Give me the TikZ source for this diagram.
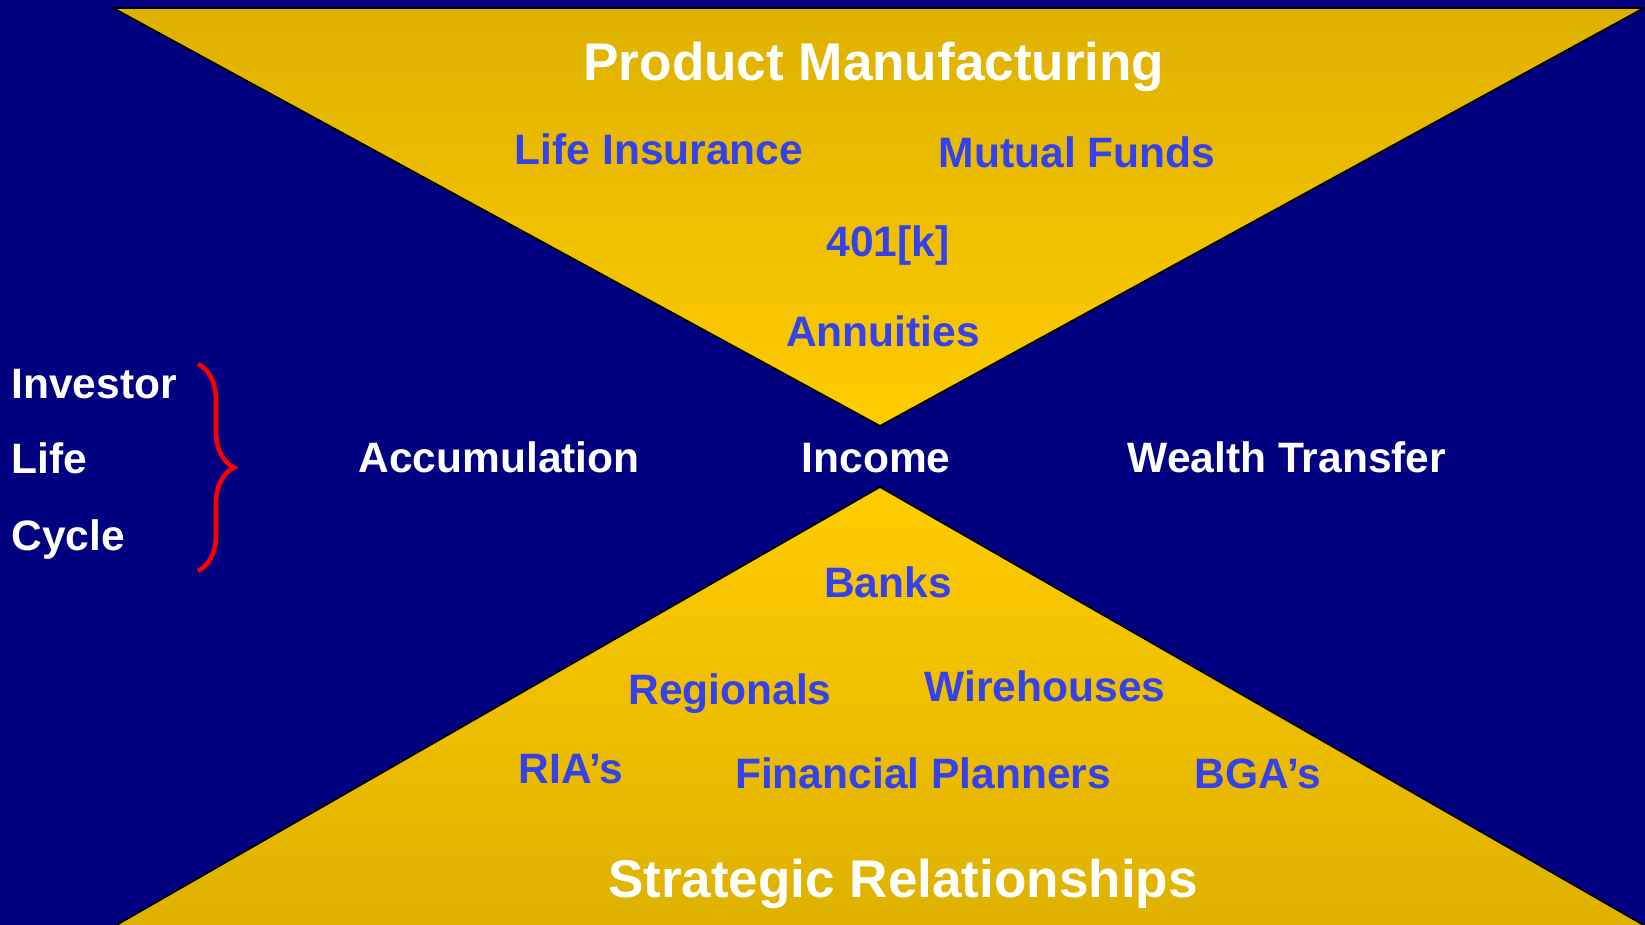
\documentclass[tikz,border=0pt]{standalone}
\usepackage{fontspec}
\setmainfont{Liberation Sans}
\usepackage{tikz}
\usepackage{xcolor}
\definecolor{navy}{RGB}{0,0,128}
\definecolor{golddark}{RGB}{222,177,0}
\definecolor{goldlight}{RGB}{255,204,0}
\definecolor{itemblue}{RGB}{52,66,236}
\usetikzlibrary{positioning,decorations.pathreplacing}

\begin{document}
\begin{tikzpicture}[
	headtext/.style={anchor=base,text=white,font=\bfseries\fontsize{15.1}{18}\selectfont},
	itemtext/.style={anchor=base,text=itemblue,font=\bfseries\fontsize{12.1}{14}\selectfont},
	stagetext/.style={anchor=base,text=white,font=\bfseries\fontsize{12.1}{14}\selectfont},
	]
				% Background
				\fill[navy] (0,0) rectangle (16.45,9.25);
				\useasboundingbox (0,0) rectangle (16.45,9.25);
				% Triangles
				\coordinate []  (TL) at (1.13,9.17)  ;
				\coordinate []  (TR) at (16.44,9.17) ;
				\coordinate []  (TA) at (8.80,4.99)  ;
				\coordinate []  (BL) at (1.13,-0.02) ;
				\coordinate []  (BR) at (16.47,-0.02) ;
				\coordinate []  (BA) at (8.80,4.38)  ;
				\shade[top color=golddark,bottom color=goldlight,draw=black,line width=0.5pt] (TL) -- (TR) -- (TA) -- cycle;
				\shade[top color=goldlight,bottom color=golddark,draw=black,line width=0.5pt] (BA) -- (BR) -- (BL) -- cycle;
				% Product side
				\node[headtext] (manufacturing) at (8.74,8.44) {Product Manufacturing};
				\node[itemtext] (lifeins) at (6.59,7.60) {Life Insurance};
				\node[itemtext] (mutual) at (10.77,7.57) {Mutual Funds};
				\node[itemtext] (plan401) at (8.88,6.68) {401[k]};
				\node[itemtext] (annuities) at (8.83,5.78) {Annuities};
				% Life cycle
				\node[stagetext,anchor=base west] (investor) at (-0.01,5.26) {Investor};
				\node[stagetext,anchor=base west] (life) at (-0.01,4.51) {Life};
				\node[stagetext,anchor=base west] (cycle) at (-0.01,3.74) {Cycle};
				\coordinate []  (braceTop) at (1.98,5.61) ;
				\coordinate []  (braceBot) at (1.98,3.54) ;
				\draw[red,line width=1.3pt,decorate,decoration={brace,amplitude=0.36cm}] (braceTop) -- (braceBot);
				\node[stagetext] (accumulation) at (4.99,4.52) {Accumulation};
				\node[stagetext] (income) at (8.76,4.52) {Income};
				\node[stagetext] (wealth) at (12.87,4.52) {Wealth Transfer};
				% Distribution side
				\node[itemtext] (banks) at (8.88,3.27) {Banks};
				\node[itemtext] (regionals) at (7.30,2.20) {Regionals};
				\node[itemtext] (wirehouses) at (10.45,2.23) {Wirehouses};
				\node[itemtext] (rias) at (5.71,1.41) {RIA’s};
				\node[itemtext] (planners) at (9.23,1.36) {Financial Planners};
				\node[itemtext] (bgas) at (12.58,1.36) {BGA’s};
				\node[headtext] (strategic) at (9.03,0.27) {Strategic Relationships};
\end{tikzpicture}
\end{document}
